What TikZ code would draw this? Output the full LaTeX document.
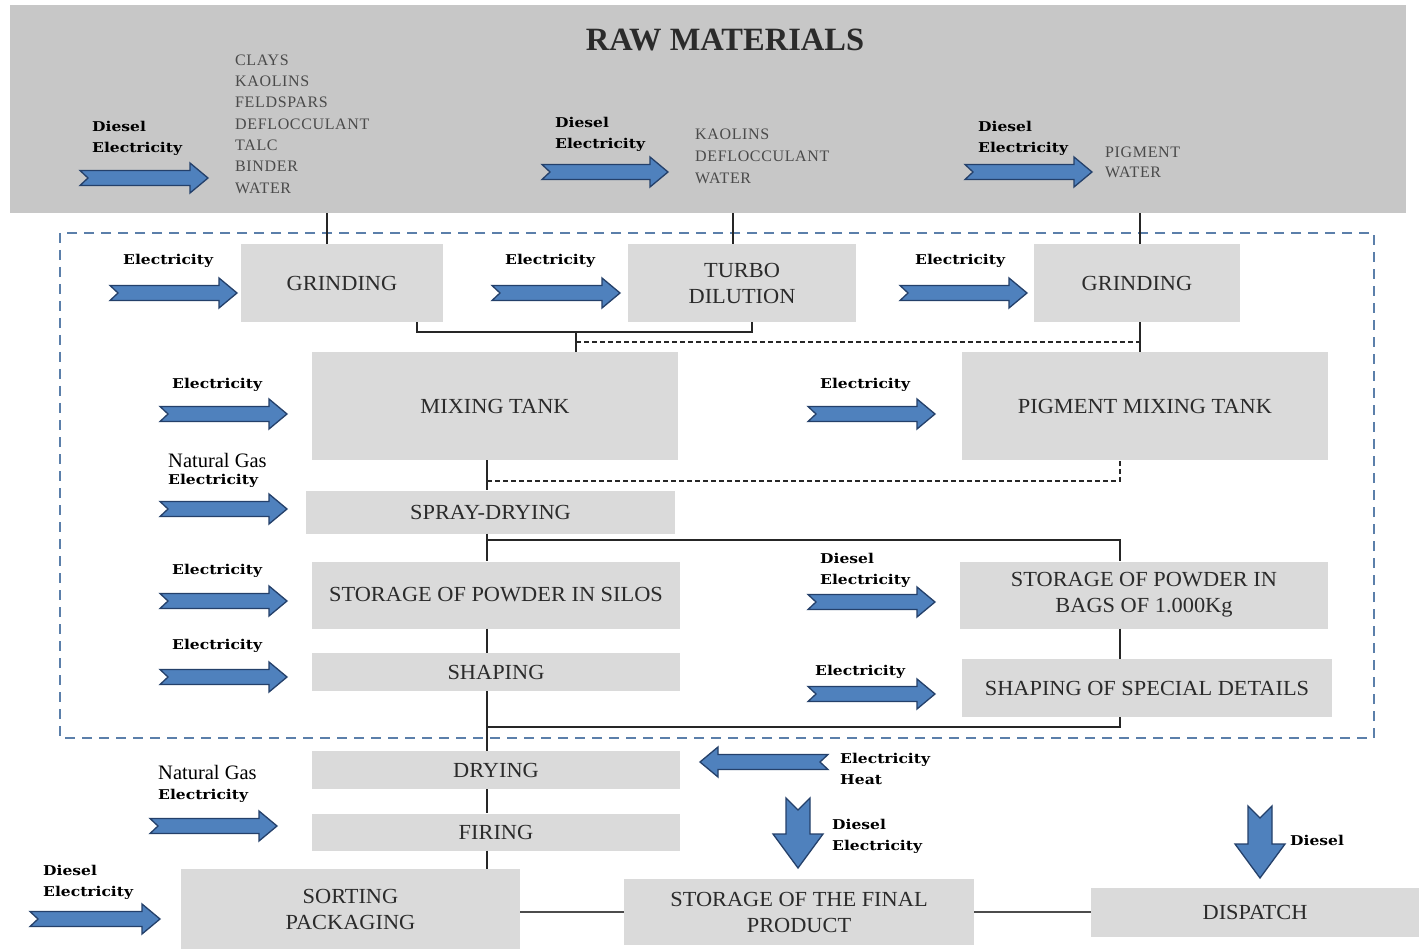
\documentclass[tikz,border=0pt]{standalone}
\usepackage{fontspec}
\setmainfont{Liberation Serif}
\newfontfamily\lblfont[FakeStretch=1.15]{DejaVu Serif}
\newfontfamily\boxfont[FakeStretch=1.04]{Liberation Serif}
\newfontfamily\matfont[LetterSpace=4]{Liberation Serif}
\definecolor{rawgray}{HTML}{C7C7C7}
\definecolor{boxgray}{HTML}{DADADA}
\definecolor{txtc}{HTML}{2B2B2B}
\definecolor{matc}{HTML}{4A4A4A}
\definecolor{arrblue}{HTML}{4F81BD}
\definecolor{arrdark}{HTML}{24406A}
\definecolor{frameblue}{HTML}{5B7FAA}
\newcommand\ArrR[3]{\draw[arr] (#1,#2) ++(0,-7.5) -- ++({#3-18},0) -- ++(0,-7.5) -- ++(18,15) -- ++(-18,15) -- ++(0,-7.5) -- ++({-#3+18},0) -- ++(8,-7.5) -- cycle;}
\newcommand\ArrL[3]{\draw[arr] (#1,#2) ++(0,-7.5) -- ++({-#3+18},0) -- ++(0,-7.5) -- ++(-18,15) -- ++(18,15) -- ++(0,-7.5) -- ++({#3-18},0) -- ++(-8,-7.5) -- cycle;}
\newcommand\ArrD[3]{\draw[arr] (#1,#2) ++(-12,0) -- ++(0,{#3-34}) -- ++(-13,0) -- ++(25,34) -- ++(25,-34) -- ++(-13,0) -- ++(0,{-#3+34}) -- ++(-12,12) -- cycle;}
\begin{document}
\begin{tikzpicture}[x=1pt,y=-1pt,
  box/.style={fill=boxgray, draw=none, align=center, text=txtc, inner sep=0pt,
    font=\boxfont\fontsize{21.5}{26}\selectfont},
  lbl/.style={font=\lblfont\bfseries\fontsize{13.5}{21}\selectfont, anchor=west, inner sep=0pt, align=left},
  ng/.style={font=\fontsize{20.5}{21}\selectfont, anchor=west, inner sep=0pt},
  mat/.style={font=\matfont\fontsize{16}{21.3}\selectfont, text=matc, anchor=west, inner sep=0pt, align=left},
  arr/.style={fill=arrblue, draw=arrdark, line width=1.3pt, line join=miter},
  conn/.style={draw=black!85, line width=1.6pt},
  dconn/.style={draw=black!85, line width=1.4pt, dash pattern=on 5pt off 3pt},
  frame/.style={draw=frameblue, line width=2pt, dash pattern=on 10pt off 7pt}]
\useasboundingbox (0,0) rectangle (1419,949);
\fill[white] (0,0) rectangle (1419,949);
% raw materials
\node[fill=rawgray, minimum width=1396pt, minimum height=208pt, inner sep=0pt] (raw) at (708,109) {};
\node[font=\bfseries\fontsize{32.5}{34}\selectfont, text=txtc] (title) at (725,40) {RAW MATERIALS};
\node[mat] (m1) at (235,124) {CLAYS\\KAOLINS\\FELDSPARS\\DEFLOCCULANT\\TALC\\BINDER\\WATER};
\node[mat, font=\matfont\fontsize{16}{22}\selectfont] (m2) at (695,156) {KAOLINS\\DEFLOCCULANT\\WATER};
\node[mat, font=\matfont\fontsize{16}{19.5}\selectfont] (m3) at (1105,162.5) {PIGMENT\\WATER};
\node[lbl] (l1) at (92,138) {Diesel\\Electricity};
\node[lbl] (l2) at (555,134) {Diesel\\Electricity};
\node[lbl] (l3) at (978,138) {Diesel\\Electricity};
\ArrR{80}{178}{128}
\ArrR{542}{172}{126}
\ArrR{965}{172}{127}
% frame
\draw[frame] (60,233) rectangle (1374,738);
% boxes
\node[box, minimum width=202pt, minimum height=78pt] (g1) at (342,283) {GRINDING};
\node[box, minimum width=228pt, minimum height=78pt] (turbo) at (742,283) {TURBO\\DILUTION};
\node[box, minimum width=206pt, minimum height=78pt] (g2) at (1137,283) {GRINDING};
\node[box, minimum width=366pt, minimum height=108pt] (mix) at (495,406) {MIXING TANK};
\node[box, minimum width=366pt, minimum height=108pt] (pmix) at (1145,406) {PIGMENT MIXING TANK};
\node[box, minimum width=369pt, minimum height=43pt] (spray) at (490.5,512) {SPRAY-DRYING};
\node[box, minimum width=368pt, minimum height=67pt] (silos) at (496,595) {STORAGE OF POWDER IN SILOS};
\node[box, minimum width=368pt, minimum height=67pt] (bags) at (1144,595) {STORAGE OF POWDER IN\\BAGS OF 1.000Kg};
\node[box, minimum width=368pt, minimum height=38pt] (shaping) at (496,672) {SHAPING};
\node[box, minimum width=370pt, minimum height=58pt] (special) at (1147,688) {SHAPING OF SPECIAL DETAILS};
\node[box, minimum width=368pt, minimum height=38pt] (drying) at (496,770) {DRYING};
\node[box, minimum width=368pt, minimum height=37pt] (firing) at (496,832) {FIRING};
\node[box, minimum width=339pt, minimum height=80pt] (sorting) at (350.5,909) {SORTING\\PACKAGING};
\node[box, minimum width=350pt, minimum height=66pt] (final) at (799,912) {STORAGE OF THE FINAL\\PRODUCT};
\node[box, minimum width=328pt, minimum height=49pt] (dispatch) at (1255,912) {DISPATCH};
% labels and arrows
\node[lbl] (e1) at (123,261) {Electricity};
\node[lbl] (e2) at (505,261) {Electricity};
\node[lbl] (e3) at (915,261) {Electricity};
\ArrR{110}{293}{127}
\ArrR{492}{293}{128}
\ArrR{900}{293}{127}
\node[lbl] (e4) at (172,385) {Electricity};
\node[lbl] (e5) at (820,385) {Electricity};
\ArrR{160}{414}{127}
\ArrR{808}{414}{127}
\node[ng] (n1) at (168,460) {Natural Gas};
\node[lbl] (e6) at (168,481) {Electricity};
\ArrR{160}{509}{127}
\node[lbl] (e7) at (172,571) {Electricity};
\node[lbl] (e8) at (820,570) {Diesel\\Electricity};
\ArrR{160}{601}{127}
\ArrR{808}{602}{127}
\node[lbl] (e9) at (172,646) {Electricity};
\node[lbl] (e10) at (815,672) {Electricity};
\ArrR{160}{677}{127}
\ArrR{808}{694}{127}
\node[lbl] (e11) at (840,769) {Electricity\\Heat};
\ArrL{828}{762}{128}
\node[ng] (n2) at (158,772) {Natural Gas};
\node[lbl] (e12) at (158,796) {Electricity};
\ArrR{150}{826}{127}
\node[lbl] (e13) at (43,882) {Diesel\\Electricity};
\ArrR{30}{919}{130}
\node[lbl] (e14) at (832,836) {Diesel\\Electricity};
\ArrD{798}{798}{70}
\node[lbl] (e15) at (1290,840) {Diesel};
\ArrD{1260}{806}{72}
% connector columns
\coordinate (colA) at (327,0);
\coordinate (colB) at (733,0);
\coordinate (colC) at (1140,0);
\coordinate (colM) at (487,0);
\coordinate (colR) at (1120,0);
\coordinate (brL) at (417,0);
\coordinate (brR) at (752,0);
\coordinate (brM) at (576,332);
\coordinate (dd1) at (576,342);
\coordinate (dd2) at (487,481);
\coordinate (hh1) at (487,540);
\coordinate (hh2) at (487,727);
% connectors
\draw[conn] (raw.south -| colA) -- (g1.north -| colA);
\draw[conn] (raw.south -| colB) -- (turbo.north -| colB);
\draw[conn] (raw.south -| colC) -- (g2.north -| colC);
\draw[conn] (g1.south -| brL) |- (brM) -| (turbo.south -| brR);
\draw[conn] (brM) -- (mix.north -| brM);
\draw[dconn] (dd1) -- (dd1 -| colC);
\draw[conn] (g2.south -| colC) -- (pmix.north -| colC);
\draw[conn] (mix.south -| colM) -- (spray.north -| colM);
\draw[dconn] (dd2) -| (pmix.south -| colR);
\draw[conn] (spray.south -| colM) -- (silos.north -| colM);
\draw[conn] (hh1) -| (bags.north -| colR);
\draw[conn] (silos.south -| colM) -- (shaping.north -| colM);
\draw[conn] (bags.south -| colR) -- (special.north -| colR);
\draw[conn] (shaping.south -| colM) -- (drying.north -| colM);
\draw[conn] (hh2) -| (special.south -| colR);
\draw[conn] (drying.south -| colM) -- (firing.north -| colM);
\draw[conn] (firing.south -| colM) -- (sorting.north -| colM);
\draw[conn, draw=black!70] (sorting.east |- final.west) -- (final.west);
\draw[conn, draw=black!70] (final.east) -- (final.east -| dispatch.west);
\end{tikzpicture}
\end{document}
